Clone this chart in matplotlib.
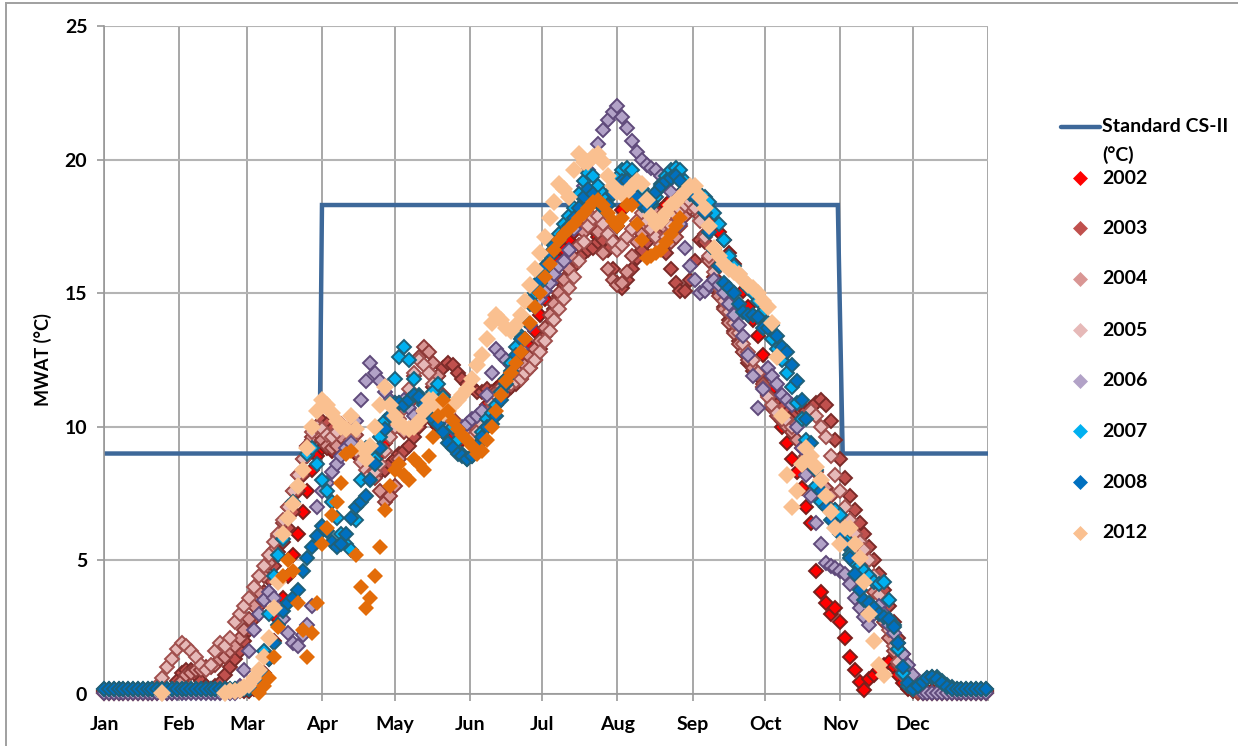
"""MWAT per year against the CS-II standard, one marker series per year."""
import matplotlib
matplotlib.use("Agg")
import matplotlib.pyplot as plt
from matplotlib.lines import Line2D

plt.rcParams['font.family'] = ['Lato', 'DejaVu Sans']

W, H = 1238, 746
na = float('nan')

# x positions of the samples, day of the year, one row below = 30 days
days = list(range(0, 366, 2))

month_days = [0, 31, 59, 90, 120, 151, 181, 212, 243, 273, 304, 334]
month_names = ['Jan', 'Feb', 'Mar', 'Apr', 'May', 'Jun', 'Jul', 'Aug', 'Sep', 'Oct', 'Nov', 'Dec']

std_days = [0, 89, 90, 303, 305, 365]
std_vals = [9, 9, 18.3, 18.3, 9, 9]

y2002 = ([.1] * 30 + [
    .1, .2, .4, .8, 1.3, 2, 2.8, 3.6, 4.4, 5.2, 6, 6.8, 7.6, 8.4, 8.9,
    9.2, 9.2, 9.1, 9.2, 9.3, 9.5, 9.4, 9, 8.8, 8.6, 8.7, 8.8, 9, 9.4, 9.8,
    10.1, 10.1, 10, 9.9, 9.9, 10.1, 10.4, 10.5, 10.2, 10, 9.8, 9.7, 9.6, 9.5, 9.5,
    9.6, 9.8, 10.1, 10.5, 10.8, 11.1, 11.4, 11.6, 11.8, 12, 12.2, 12.4, 12.6, 13, 13.6,
    14.2, 14.8, 15.4, 15.9, 16.2, 16.6, 17, 17.3, 17.6, 17.8, 17.7, 17.4, 17.1, 16.8, 16.9,
    17, 17.5, 18.1, 18.7, 19, 18.8, 18.5, 18.3, 18.2, 18, 18.1, 18.3, 18.5, 18.6, 18.7,
    18.8, 18.7, 18.6, 18.3, 18, 17.8, 17.6, 17.3, 17, 16.5, 16.1, 15.7, 15.1, 14.5, 14,
    13.4, 12.7, 12, 11.4, 10.6, 10, 9.4, 8.8, 8.3, 7.7, 7, 6.4, 4.6, 3.8, 3.4,
    3, 3.2, 2.7, 2.1, 1.4, .9, .45, .15, .55, .7, .9, 1.1, 1.2, 1, .7,
    .4, .2] + [.1] * 16)
y2003 = ([.1] * 15 + [
    .5, .8, .9, .9, .7, .5, .3, .2, .3, .4, .7, 1, 1.3, 1.6, 2,
    2.4, 2.8, 3.3, 3.8, 4.3, 4.8, 5.3, 5.7, 6.2, 6.8, 7.6, 8.2, 8.9, 9.5, 10,
    10.2, 10.1, 9.9, 9.6, 9.4, 9.5, 9.6, 9.3, 9, 8.8, 8.6, 8.4, 8.3, 8.4, 8.6,
    8.8, 9, 9.1, 9.3, 9.6, 10, 10.5, 11, 11.5, 11.9, 12.2, 12.4, 12.3, 12, 11.8,
    11.6, 11.5, 11.3, 11.3, 11.4, 11.3, 11.2, 11.2, 11.3, 11.5, 11.6, 11.8, 12, 12.2, 12.5,
    12.9, 13.4, 13.9, 14.4, 14.9, 15.3, 15.7, 16, 16.3, 16.5, 16.6, 16.7, 16.9, 17, 16.6,
    15.9, 15.4, 15.2, 15.5, 15.9, 16.3, 16.6, 16.9, 17.2, 17.4, 17.2, 16.5, 15.9, 15.4, 15.1,
    15.1, 15.5, 16.2, 17, 16.9, 16.3, 15.6, 15, 14.5, 14, 13.6, 13.2, 12.8, 12.4, 12.1,
    11.9, 11.5, 11.2, 11, 10.8, 10.7, 10.5, 10.4, 10.5, 10.6, 10.6, 10.7, 10.9, 11, 10.8,
    10.2, 9.5, 8.8, 8.1, 7.4, 6.9, 6.4, 6, 5.5, 5, 4.5, 3.9, 3.3, 2.7, 2.1,
    1.5, .9, .4, .15] + [.1] * 14)
y2004 = ([.05] * 15 + [
    .3, .5, .7, .8, .9, .9, 1, 1, 1.1, 1.3, 1.4, 1.6, 1.8, 2.1, 2.4,
    2.8, 3.3, 3.8, 4.4, 4.9, 5.4, 5.9, 6.4, 7, 7.6, 8.2, 8.8, 9.3, 9.6, 9.8,
    9.5, 9.3, 9.2, 9.3, 9.6, 9.9, 10, 9.7, 9.2, 8.9, 8.6, 8.1, 7.6, 7.2, 7.4,
    7.8, 8.8, 9.8, 10.9, 11.9, 12.6, 13, 12.8, 12.4, 11.9, 11.2, 10.7, 10.3, 10, 9.8,
    9.6, 9.7, 9.9, 10.2, 10.6, 11, 11.3, 11.5, 11.7, 11.8, 12, 12.1, 12.3, 12.6, 12.9,
    13.2, 13.7, 14.2, 14.6, 15, 15.5, 15.9, 16.3, 16.8, 17.3, 17.7, 17.8, 17.3, 16.5, 15.9,
    15.5, 15.3, 15.4, 15.8, 16.4, 16.9, 17.2, 17.5, 17.8, 18, 17.9, 17.4, 16.9, 17.1, 17.5,
    17.9, 18.2, 18.3, 17.9, 17.2, 16.2, 15.4, 14.9, 14.4, 13.9, 13.5, 13.1, 12.8, 12.5, 12.2,
    12, 11.6, 11.2, 10.7, 10.4, 10.2, 10, 9.8, 9.5, 9.2, 8.9, 8.6, 8.3, 8, 7.7,
    7.4, 6.9, 6.5, 6.2, 5.9, 5.6, 5.3, 4.9, 4.4, 3.8, 3.2, 2.7, 2.1, 1.6, 1.1,
    .7, .4, .15] + [.05] * 15)
y2005 = ([.05] * 11 + [.3, .6, 1, 1.3] + [
    1.7, 1.9, 1.8, 1.6, 1.4, 1.1, .9, 1.1, 1.6, 1.9, 1.8, 2.1, 2.7, 3, 3.3,
    3.6, 4, 4.4, 4.8, 5.2, 5.7, 6, 6.5, 7, 7.6, 8.2, 8.8, 9.3, 9.8, 10,
    9.9, 9.7, 9.6, 9.8, 10.1, 9.9, 9.5, 9.1, 8.7, 8.4, 8.2, 8.3, 8.6, 9.1, 9.6,
    10, 10.3, 10.7, 11.4, 12, 12.5, 12.3, 12, 11.6, 11.2, 10.8, 10.5, 10.2, 10, 9.8,
    9.7, 9.6, 9.8, 10.1, 10.5, 10.9, 11.2, 11.3, 11.5, 11.6, 11.7, 11.8, 12, 12.2, 12.5,
    12.8, 13.2, 13.6, 14, 14.4, 14.8, 15.2, 15.6, 16.2, 16.9, 17.5, 17.8, 17.9, 17.6, 17.2,
    16.9, 16.6, 16.8, 17.1, 17.4, 17.7, 18, 17.7, 17.4, 17.1, 16.8, 17.1, 17.5, 17.9, 18.1,
    18.3, 18.4, 18.2, 17.7, 17.1, 16.4, 15.8, 15.2, 14.7, 14.3, 13.9, 13.5, 13.1, 12.8, 12.5,
    12, 11.5, 11.1, 10.8, 10.5, 10.3, 10.2, 10, 10.1, 10.3, 10.4, 10.6, 10.4, 10, 9.6,
    8.9, 8.2, 7.6, 7, 6.5, 6, 5.7, 5.4, 5, 4.4, 3.7, 3, 2.4, 1.8, 1.2,
    .7, .4, .2, .1] + [.05] * 14)
y2006 = ([.05] * 28 + [.3, .9] + [
    1.6, 2.4, 3, 3.5, 3.8, 3.6, 3.2, 2.8, 2.3, 1.9, 1.8, 2.2, 2.6, 3.3, 7,
    7.6, 7.9, 8.3, 8.6, 8.9, 9.2, 9.4, 10.2, 11, 11.7, 12.4, 12, 11.7, 11.3, 11,
    10.9, 10.9, 11, 10.7, 10.4, 10.2, 10.5, 10.8, 11, 10.7, 10.3, 10, 9.9, 9.9, 10,
    10.1, 10.3, 10.4, 10.6, 11.2, 12, 12.9, 12.7, 12.5, 12.3, 12.4, 12.9, 13.3, 13.8, 14.5,
    14.8, 15.1, 15.4, 15.7, 16, 16.2, 16.6, 17.4, 18.2, 19, 19.6, 20.1, 20.6, 21.1, 21.5,
    21.8, 22, 21.6, 21.2, 20.7, 20.3, 20, 19.8, 19.7, 19.6, 19.4, 19.1, 18.8, 18.5, 17.6,
    16.7, 16, 15.5, 15, 15.1, 15.3, 15.5, 15.3, 15, 14.6, 14.2, 13.8, 13.4, 12.7, 11.9,
    10.7, 11.4, 12.2, 11.9, 11.6, 11.2, 11, 10.8, 10, 9.2, 8.2, 7.4, 6.4, 5.6, 4.9,
    4.8, 4.7, 4.6, 4.5, 4.1, 3.6, 3.2, 2.9, 2.6, 3, 3.3, 3, 2.6, 2.3, 1.9,
    1.5, 1.1, .7, .3] + [.05] * 14)
y2007 = ([.2] * 30 + [
    .2, .4, .8, 1.6, 3, 4.4, 5.2, 5.8, 6.6, 7.2, 7.8, 8.4, 9, 9.2, 8.6,
    8, 7.6, 7.2, 6.6, 6, 5.6, 5.4, 6.5, 8, 9.2, 9, 8.8, 9.6, 10.2, 10.9,
    11.8, 12.6, 13, 12.5, 11.8, 11.2, 10.9, 11, 11.3, 11.6, 11.1, 10.6, 10, 9.5, 9,
    8.8, 8.9, 9.3, 9.8, 10.3, 10.5, 10.8, 11.3, 11.8, 12.4, 13, 13.4, 14, 14.6, 15,
    15.4, 15.9, 16.4, 16.8, 17.2, 17.6, 17.9, 18.2, 18.7, 19.2, 19.5, 19.4, 19, 18.7, 18.6,
    18.9, 19.3, 19.6, 19.7, 19.6, 19.2, 18.9, 18.6, 18.3, 18.6, 19.1, 19.4, 19.6, 19.7, 19.6,
    19.2, 18.9, 18.9, 18.7, 18.6, 18.4, 18, 17.6, 17, 16.4, 16, 15.7, 15.5, 15.2, 15,
    14.7, 14.3, 13.9, 13.3, 12.9, 12.5, 12, 11.5, 10.9, 10.3, 9.5, 8.6, 7.8, 7.2, 7,
    6.9, 6.9, 6.7, 5.8, 5.2, 4.9, 4.8, 4.6, 4.4, 4.2, 4.1, 4.2, 3.5, 2.6, 1.7,
    .8, .3, .2, .3, .45, .6, .65, .65, .5, .35, .25] + [.2] * 7)
y2008 = ([.2] * 30 + [
    .2, .3, .4, .7, 1.3, 1.9, 2.6, 3.1, 3.4, 3.6, 3.9, 4.6, 5.1, 5.5, 5.9,
    6.3, 6.1, 5.7, 5.5, 5.6, 6, 6.6, 7, 7.2, 7.4, 8, 8.6, 9.2, 9.9, 10.4,
    10.9, 10.9, 10.8, 11, 11.2, 11.1, 10.8, 10.5, 10.3, 10.1, 9.8, 9.4, 9.2, 9, 8.9,
    8.8, 8.9, 9.3, 9.6, 10, 10.1, 10.4, 11, 11.6, 12.1, 12.7, 13.3, 14, 14.7, 15.2,
    15.5, 16, 16.5, 16.8, 17, 17.2, 17.5, 17.8, 18.2, 18.6, 18.9, 18.7, 18.4, 18.2, 18.3,
    18.7, 19, 19.2, 19.2, 19, 18.6, 18.3, 18.2, 18.4, 18.8, 19, 19.2, 19.3, 19.4, 19.2,
    18.9, 18.7, 18.6, 18.4, 18, 17.3, 16.6, 16, 15.4, 15.2, 15, 14.6, 14.3, 14.2, 14.2,
    14.1, 13.7, 13.7, 13.8, 13.4, 13, 12.8, 12.3, 11.7, 11, 10.3, 9.4, 8.4, 7.6, 7,
    6.5, 6.2, 6, 5.6, 5.1, 4.5, 3.9, 3.5, 3.4, 3.2, 3, 2.9, 2.8, 2.5, 1.9,
    1, .4, .2, .3, .45, .6, .65, .55, .4, .25] + [.2] * 8)
y2012 = ([na] * 12 + [.05] + [na] * 12 + [.05, .1, .1, .15, .25] + [
    .35, .6, .9, 1.4, 2.1, 3.2, 4.2, 6, 6.6, 7.1, 7.8, 8.4, 9.2, 10, 10.6,
    11, 10.8, 10.5, 10.2, 10, 9.9, 10.4, 9.9, 9.2, 8.8, 9.3, 10, 10.8, 11.5, 10.8,
    10.4, 10.1, 10, 9.9, 10, 10.2, 10.6, 11, 11, 10.7, 10.5, 10.6, 10.8, 11, 11.2,
    11.4, 11.8, 12.3, 12.7, 13.3, 13.9, 14.2, 14, 13.7, 13.6, 13.8, 14.2, 14.7, 15.3, 15.9,
    16.5, 17.1, 17.8, 18.4, 19.1, 18.9, 18.6, 19.6, 20.2, 19.9, 19.9, 20.1, 20.2, 19.9, 19.4,
    19, 18.8, 18.7, 18.8, 19, 19.2, 19.1, 18.5, 17.9, 17.6, 17.7, 18, 18.3, 18.4, 18.6,
    18.8, 19, 19, 18.6, 18.2, 17.5, 16.7, 16.4, 16.1, 15.9, 15.8, 15.7, 15.5, 15.3, 15.2,
    15, 14.7, 14.5, 13.9, 12.6, 10.4, 8.2, 7, 7.6, 8.6, 9.2, 8.9, 8.5, 8, 7.4,
    6.8, 6.2, 5.6, 6.2, 6.2, 5.6, 5.1, 4.2, 3, 2, 1.1, .7] + [na] * 21)
# the dark orange series has no entry in the legend, it stops in late August
y_orange = ([na] * 32 + [
    .05, .3, .6, 1.4, 2.5, 4.4, 5, 4.6, 3.4, 2.4, 1.4, 2.3, 3.4,
    5.6, 6.2, 6.7, 7.2, 7.9, 9, 9.1, 5.2, 4, 3.2, 3.6, 4.4, 5.5, 6.9, 7.8,
    8.4, 8.6, 8.2, 8, 8.8, 8.6, 8.4, 8.9, 9.6, 10.4, 11, 10.6, 10.2, 9.9, 9.7,
    9.5, 9.3, 9, 9.1, 9.5, 10, 10.6, 11.2, 11.7, 12, 12.4, 12.8, 13.3, 13.9, 14.5,
    15, 15.6, 16.1, 16.6, 17, 17.2, 17.4, 17.6, 17.8, 18, 18.2, 18.4, 18.5, 18.3, 18,
    17.7, 17.5, 17.8, 18.3, 18.3, 17.6, 17, 16.3, 16.4, 16.5, 16.6, 16.9, 17.2, 17.5, 17.8,
] + [na] * 63)

# label, values, fill, edge
series = [
    ('2002', y2002, '#FF0000', '#7A1F1C'),
    ('2003', y2003, '#C0504D', '#7A2A28'),
    ('2004', y2004, '#D99694', '#8E3A38'),
    ('2005', y2005, '#E6B9B8', '#A04F4D'),
    ('2006', y2006, '#B2A2C7', '#604A7B'),
    ('2007', y2007, '#00B0F0', '#1F6078'),
    ('2008', y2008, '#0070C0', '#1F6078'),
    ('2012', y2012, '#FAC090', '#FAC090'),
]

fig = plt.figure(figsize=(W / 100, H / 100), dpi=100)
ax = fig.add_axes([104 / W, 1 - 694 / H, 884 / W, 668 / H])

ax.set_xlim(0, 365)
ax.set_ylim(0, 25)
ax.set_axisbelow(True)
ax.set_xticks(month_days + [365])
ax.set_xticklabels(month_names + [''])
ax.set_yticks([0, 5, 10, 15, 20, 25])
ax.grid(axis='x', color='#989898', lw=1.2)
ax.grid(axis='y', color='#B4B4B4', lw=1.5)
ax.tick_params(axis='x', direction='out', length=5, width=1.2, color='#989898', pad=11)
ax.tick_params(axis='y', direction='out', length=5, width=1.2, color='#989898', pad=7)
for lab in ax.get_xticklabels() + ax.get_yticklabels():
    lab.set_fontsize(14)
    lab.set_fontweight('bold')
for s in ['top', 'right']:
    ax.spines[s].set_visible(False)
for s in ['left', 'bottom']:
    ax.spines[s].set_color('#989898')
    ax.spines[s].set_linewidth(1.2)
ax.set_ylabel('MWAT (°C)', fontsize=13, fontweight='bold')
ax.yaxis.set_label_coords((52 - 104) / 884, 0.5)

ax.plot(std_days, std_vals, color='#3D6899', lw=3.2, zorder=2, solid_joinstyle='miter')

for label, vals, fill, edge in series:
    size = 9.2 if label == '2012' else 6.9
    mew = 0 if label == '2012' else 1.4
    ax.plot(days, vals, ls='none', marker='D', ms=size, mfc=fill, mec=edge, mew=mew,
            clip_on=False, zorder=3)
ax.plot(days, y_orange, ls='none', marker='D', ms=8.6, mfc='#E36C09', mec='#E36C09', mew=0,
        clip_on=False, zorder=3)

# legend, placed by hand because the first entry wraps on two lines
legend_y = [178, 228, 279, 330, 381, 431, 482, 533]
fig.add_artist(Line2D([1061 / W, 1100 / W], [1 - 127 / H] * 2, color='#3D6899', lw=3.2,
                      solid_capstyle='round'))
fig.text(1102 / W, 1 - 127 / H, 'Standard CS-II', fontsize=14, fontweight='bold', va='center')
fig.text(1102 / W, 1 - 155 / H, '(°C)', fontsize=14, fontweight='bold', va='center')
for (label, vals, fill, edge), yy in zip(series, legend_y):
    fig.add_artist(Line2D([1080 / W], [1 - yy / H], ls='none', marker='D', ms=7.5, mfc=fill,
                          mec=fill, mew=0.5))
    fig.text(1102 / W, 1 - yy / H, label, fontsize=14, fontweight='bold', va='center')

# thin frame left by the original screenshot
fig.add_artist(Line2D([6 / W, 1], [1 - 3 / H] * 2, color='#A0A0A0', lw=1.4))
fig.add_artist(Line2D([6 / W, 6 / W], [0, 1 - 3 / H], color='#A0A0A0', lw=1.4))

fig.savefig('out.png', dpi=100)
